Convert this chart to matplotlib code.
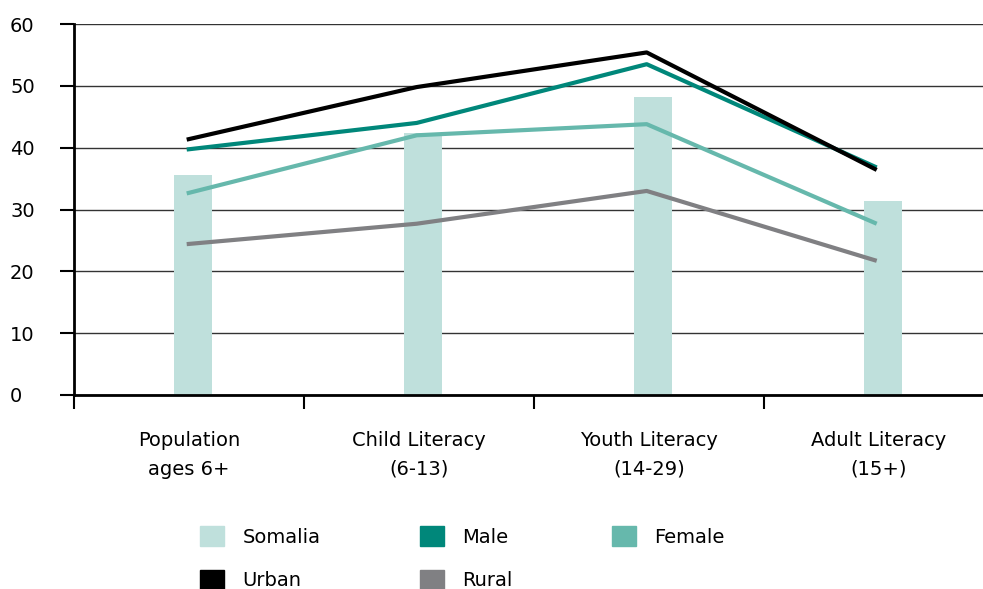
import numpy as np
import matplotlib.pyplot as plt
from matplotlib.patches import Patch

plt.rcParams['font.family'] = ['DejaVu Sans']

# data
categories = ['Population\nages 6+', 'Child Literacy\n(6-13)', 'Youth Literacy\n(14-29)', 'Adult Literacy\n(15+)']
somalia = [35.6, 42.4, 48.2, 31.4]
male = [39.7, 44.0, 53.5, 36.8]
female = [32.6, 42.0, 43.8, 27.7]
urban = [41.3, 49.8, 55.4, 36.4]
rural = [24.4, 27.7, 33.0, 21.7]

c_somalia = '#bfe0dc'
c_male = '#00877a'
c_female = '#66b8ac'
c_urban = '#000000'
c_rural = '#808083'

fig = plt.figure(figsize=(9.83, 5.89), dpi=100)
# axes runs a bit past the right edge, as in the reference
ax = fig.add_axes([74/983, 194/589, 920/983, 371/589])

x = np.arange(len(categories))
ax.bar(x + 0.017, somalia, width=0.165, color=c_somalia, zorder=2)
xl = x - 0.01
ax.plot(xl, male, color=c_male, lw=3, zorder=3, solid_capstyle='butt')
ax.plot(xl, female, color=c_female, lw=3, zorder=3, solid_capstyle='butt')
ax.plot(xl, rural, color=c_rural, lw=3, zorder=3, solid_capstyle='butt')
ax.plot(xl, urban, color=c_urban, lw=3, zorder=4, solid_capstyle='butt')

ax.set_xlim(-0.5, 3.5)
ax.set_ylim(0, 60)
ax.set_yticks(range(0, 61, 10))
ax.yaxis.grid(True, color='#333333', lw=1, zorder=1)
ax.set_axisbelow(True)

# major ticks between categories, labels on minor ticks at the centres
ax.set_xticks(x - 0.5, minor=False)
ax.set_xticklabels([])
ax.set_xticks(x, minor=True)
ax.set_xticklabels(categories, minor=True, fontsize=14, linespacing=1.65)
ax.tick_params(axis='x', which='major', length=10, width=1.5, direction='out', color='black')
ax.tick_params(axis='x', which='minor', length=0, pad=26)
ax.tick_params(axis='y', length=10, width=1.5, direction='out', pad=36, labelsize=14)
for lab in ax.get_yticklabels():
    lab.set_ha('left')

for s in ['top', 'right']:
    ax.spines[s].set_visible(False)
ax.spines['left'].set_linewidth(2)
ax.spines['bottom'].set_linewidth(2)

# legend is filled column by column, so order it to read row by row
handles = [Patch(color=c_somalia), Patch(color=c_urban), Patch(color=c_male),
           Patch(color=c_rural), Patch(color=c_female)]
labels = ['Somalia', 'Urban', 'Male', 'Rural', 'Female']
fig.legend(handles, labels, loc='upper left', bbox_to_anchor=(200/983, 1 - 526/589),
           ncol=3, frameon=False, fontsize=14, borderpad=0, borderaxespad=0,
           handlelength=1.24, handleheight=1.2, handletextpad=0.95,
           columnspacing=5.1, labelspacing=1.2)

fig.savefig('out.png', dpi=100)
